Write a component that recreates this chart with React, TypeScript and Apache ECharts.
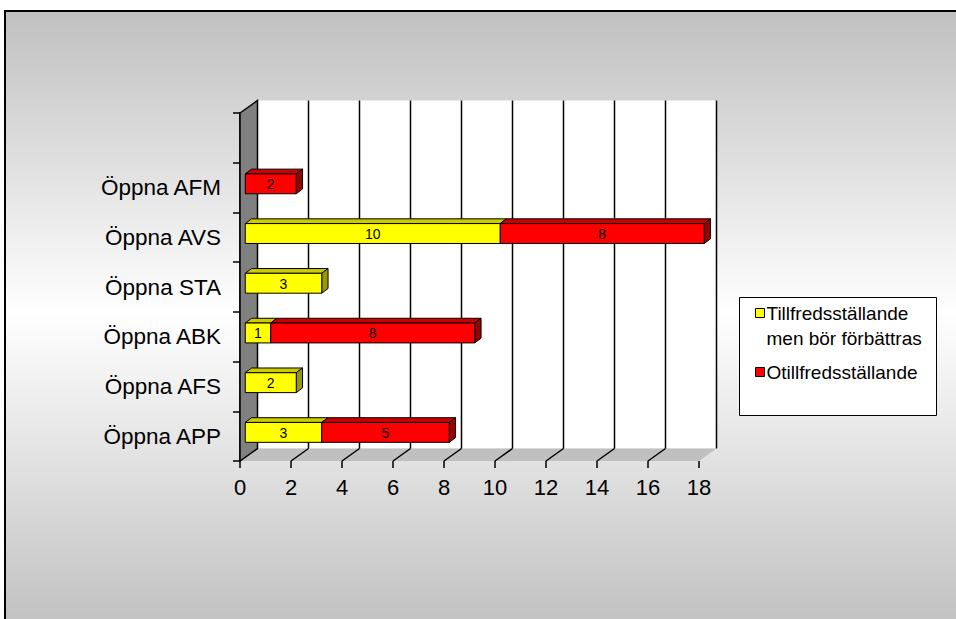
import React, { useEffect, useRef } from "react";
import * as echarts from "echarts";

const categories = ["Öppna APP", "Öppna AFS", "Öppna ABK", "Öppna STA", "Öppna AVS", "Öppna AFM", ""];
const seriesNames = ["Tillfredsställande\nmen bör förbättras", "Otillfredsställande"];
const satisfactoryButImprove = [3, 2, 1, 3, 10, 0, 0];
const unsatisfactory = [5, 0, 8, 0, 8, 2, 0];
const xTicks = [0, 2, 4, 6, 8, 10, 12, 14, 16, 18];
const X_MAX = 18;

const FONT = "'Liberation Sans', Arial, sans-serif";
const DX = 17.5;
const DY = 12.5;

function barRenderer(front: string, top: string, side: string) {
  return (params: any, api: any) => {
    const v = api.value(0);
    const cat = api.value(1);
    const start = api.value(2);
    if (!v) return { type: "group", children: [] };
    const a = api.coord([start, cat]);
    const b = api.coord([start + v, cat]);
    const band = api.size([0, 1])[1];
    const h = band * 0.4;
    const ox = DX * 0.3, oy = DY * 0.3;
    const dx = DX * 0.36, dy = DY * 0.38;
    const x0 = a[0] + ox, x1 = b[0] + ox;
    const yc = a[1] - oy;
    const y0 = yc - h / 2, y1 = yc + h / 2;
    return {
      type: "group",
      children: [
        { type: "polygon", shape: { points: [[x0, y0], [x0 + dx, y0 - dy], [x1 + dx, y0 - dy], [x1, y0]] }, style: { fill: top, stroke: "#000", lineWidth: 1 } },
        { type: "polygon", shape: { points: [[x1, y0], [x1 + dx, y0 - dy], [x1 + dx, y1 - dy], [x1, y1]] }, style: { fill: side, stroke: "#000", lineWidth: 1 } },
        { type: "rect", shape: { x: x0, y: y0, width: x1 - x0, height: h }, style: { fill: front, stroke: "#000", lineWidth: 1 } },
        { type: "text", style: { text: String(v), x: (x0 + x1) / 2, y: yc + 0.5, align: "center", verticalAlign: "middle", fontSize: 14, fill: "#000", fontFamily: FONT } },
      ],
    };
  };
}

function wallsRenderer(params: any, api: any) {
  const cs = params.coordSys;
  const left = cs.x, top = cs.y, bottom = cs.y + cs.height;
  const xr = api.coord([X_MAX, 0])[0];
  const children: any[] = [];
  children.push({ type: "rect", shape: { x: left + DX, y: top - DY, width: xr - left, height: cs.height }, style: { fill: "#ffffff" } });
  children.push({ type: "polygon", shape: { points: [[left, bottom], [left + DX, bottom - DY], [xr + DX, bottom - DY], [xr, bottom]] }, style: { fill: "#c0c0c0" } });
  xTicks.forEach((t) => {
    if (t === 0) return;
    const x = api.coord([t, 0])[0];
    children.push({ type: "line", shape: { x1: x + DX, y1: top - DY, x2: x + DX, y2: bottom - DY }, style: { stroke: "#000", lineWidth: 1.5 } });
    if (t !== X_MAX) {
      children.push({ type: "line", shape: { x1: x + DX, y1: bottom - DY, x2: x, y2: bottom }, style: { stroke: "#000", lineWidth: 1.5 } });
    }
  });
  children.push({ type: "polygon", shape: { points: [[left, top], [left + DX, top - DY], [left + DX, bottom - DY], [left, bottom]] }, style: { fill: "#808080", stroke: "#000", lineWidth: 1.5 } });
  return { type: "group", children };
}

export default function App() {
  const ref = useRef<HTMLDivElement>(null);
  useEffect(() => {
    if (!ref.current) return;
    const chart = echarts.init(ref.current, null, { renderer: "svg" });
    const yellowData = satisfactoryButImprove.map((v, i) => [v, i, 0]);
    const redData = unsatisfactory.map((v, i) => [v, i, satisfactoryButImprove[i]]);
    const [n1a, n1b] = seriesNames[0].split("\n");
    const option: any = {
      animation: false,
      grid: { left: 240, top: 113, width: 459, height: 348, containLabel: false },
      xAxis: {
        type: "value",
        min: 0,
        max: X_MAX,
        interval: 2,
        axisLine: { show: false },
        axisTick: { show: true, length: 7, lineStyle: { color: "#000", width: 1.5 } },
        splitLine: { show: false },
        axisLabel: { fontSize: 22, color: "#000", margin: 15, fontFamily: FONT },
      },
      yAxis: {
        type: "category",
        data: categories,
        axisLine: { show: true, lineStyle: { color: "#000", width: 1.5 } },
        axisTick: { show: true, length: 7, lineStyle: { color: "#000", width: 1.5 } },
        axisLabel: { fontSize: 22.5, color: "#000", margin: 19, fontFamily: FONT },
        splitLine: { show: false },
      },
      graphic: [
        {
          type: "rect",
          z: -100,
          shape: { x: 5, y: 11, width: 1000, height: 700 },
          style: {
            fill: new echarts.graphic.LinearGradient(0, 0, 0, 1, [
              { offset: 0, color: "#c0c0c0" },
              { offset: 0.43, color: "#ffffff" },
              { offset: 0.87, color: "#c2c2c2" },
              { offset: 1, color: "#c2c2c2" },
            ]),
            stroke: "#000",
            lineWidth: 2,
          },
        },
        { type: "rect", z: 100, shape: { x: 739.5, y: 297.5, width: 197, height: 118 }, style: { fill: "#fff", stroke: "#000", lineWidth: 1 } },
        { type: "rect", z: 101, shape: { x: 755.5, y: 308.5, width: 9, height: 9 }, style: { fill: "#ffff00", stroke: "#000", lineWidth: 1 } },
        { type: "text", z: 101, style: { text: n1a, x: 766.5, y: 313, verticalAlign: "middle", fontSize: 19, fill: "#000", fontFamily: FONT } },
        { type: "text", z: 101, style: { text: n1b, x: 766.5, y: 338, verticalAlign: "middle", fontSize: 19, fill: "#000", fontFamily: FONT } },
        { type: "rect", z: 101, shape: { x: 755.5, y: 367.5, width: 9, height: 9 }, style: { fill: "#ff0000", stroke: "#000", lineWidth: 1 } },
        { type: "text", z: 101, style: { text: seriesNames[1], x: 766.5, y: 372, verticalAlign: "middle", fontSize: 19, fill: "#000", fontFamily: FONT } },
      ],
      series: [
        { type: "custom", name: "walls", z: 1, silent: true, renderItem: wallsRenderer, data: [[0, 0, 0]], encode: { x: 0, y: 1 } },
        { type: "custom", name: seriesNames[0], z: 2, renderItem: barRenderer("#ffff00", "#cccc00", "#999900"), data: yellowData, encode: { x: 0, y: 1 } },
        { type: "custom", name: seriesNames[1], z: 3, renderItem: barRenderer("#ff0000", "#cc0000", "#990000"), data: redData, encode: { x: 0, y: 1 } },
      ],
    };
    chart.setOption(option);
    return () => chart.dispose();
  }, []);
  return <div ref={ref} style={{ position: "absolute", left: 0, top: 0, width: 956, height: 619 }} />;
}
